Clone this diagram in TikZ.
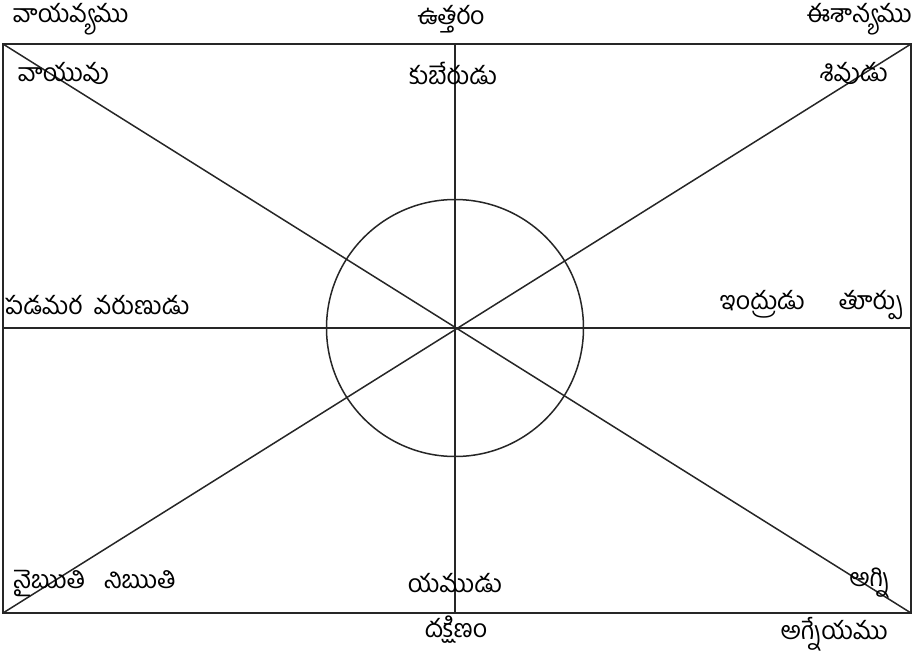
\documentclass[tikz,border=0pt]{standalone}
\usepackage{fontspec}
\newfontfamily\telugu[Script=Telugu]{Hind Guntur}
\usetikzlibrary{positioning}

\begin{document}
\begin{tikzpicture}[
    x=1pt, y=-1pt,
    lbl/.style={font=\telugu\fontsize{25}{28}\selectfont, inner sep=0pt},
    frame/.style={draw=black!85, line width=1.8pt},
    ray/.style={draw=black!85, line width=1.5pt}
]
\useasboundingbox (0,0) rectangle (924,659);

% ==================== FRAME ====================
\coordinate (nw) at (3,44);
\coordinate (ne) at (911,44);
\coordinate (sw) at (3,613);
\coordinate (se) at (911,613);
\coordinate (n) at (455,44);
\coordinate (s) at (455,613);
\coordinate (w) at (3,328);
\coordinate (e) at (911,328);
\coordinate (c) at (455,328);

\draw[ray] (n) -- (s);
\draw[ray] (w) -- (e);
\draw[ray] (nw) -- (se);
\draw[ray] (ne) -- (sw);
\node[ray, circle, minimum size=257pt, inner sep=0pt] (ring) at (c) {};
\draw[frame] (nw) rectangle (se);

% ==================== DIRECTIONS ====================
\node[lbl, anchor=west] (vayavya) at (13,19) {వాయవ్యము};
\node[lbl] (uttaram) at (451,19) {ఉత్తరం};
\node[lbl, anchor=east] (eesanya) at (912,19) {ఈశాన్యము};
\node[lbl, anchor=west] (padamara) at (5,305) {పడమర\hspace{12pt}వరుణుడు};
\node[lbl, anchor=east] (turpu) at (903,305) {ఇంద్రుడు\hspace{34pt}తూర్పు};
\node[lbl] (dakshinam) at (456,630) {దక్షిణం};
\node[lbl, anchor=east] (agneyam) at (888,634) {అగ్నేయము};

% ==================== DEITIES ====================
\node[lbl, anchor=west] (vayuvu) at (18,73) {వాయువు};
\node[lbl] (kubera) at (453,73) {కుబేరుడు};
\node[lbl, anchor=east] (sivudu) at (888,73) {శివుడు};
\node[lbl, anchor=west] (nairuti) at (13,583) {నైఋతి\hspace{18pt}నిఋతి};
\node[lbl] (yama) at (455,583) {యముడు};
\node[lbl, anchor=east] (agni) at (890,583) {అగ్ని};

\end{tikzpicture}
\end{document}
